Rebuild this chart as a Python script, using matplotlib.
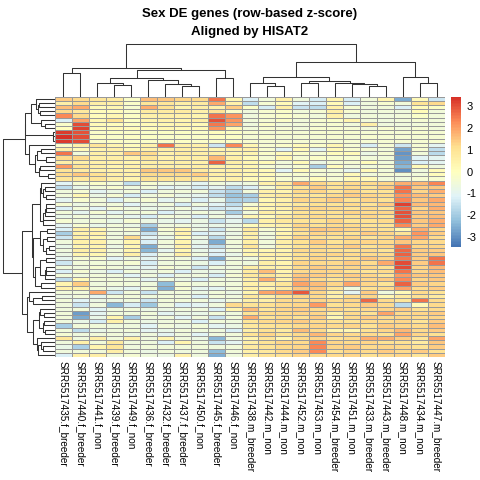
import numpy as np
import matplotlib
matplotlib.use("Agg")
import matplotlib.pyplot as plt
from matplotlib.colors import LinearSegmentedColormap

plt.rcParams["font.family"] = ["Liberation Sans", "DejaVu Sans"]
plt.rcParams["axes.unicode_minus"] = False

# column (sample) labels, in the displayed order
samples = [
    "SRR5517435.f_breeder", "SRR5517440.f_breeder", "SRR5517441.f_non",
    "SRR5517439.f_breeder", "SRR5517449.f_non", "SRR5517436.f_breeder",
    "SRR5517432.f_breeder", "SRR5517437.f_breeder", "SRR5517450.f_non",
    "SRR5517445.f_breeder", "SRR5517446.f_non", "SRR5517438.m_breeder",
    "SRR5517442.m_non", "SRR5517444.m_non", "SRR5517452.m_non",
    "SRR5517453.m_non", "SRR5517454.m_breeder", "SRR5517451.m_non",
    "SRR5517433.m_breeder", "SRR5517443.m_breeder", "SRR5517448.m_non",
    "SRR5517434.m_non", "SRR5517447.m_breeder",
]

# row z-scores (rows top to bottom, columns as above)
zscores = [
    [1.4, 1.2, 0.9, 0.7, -0.2, 1.6, 1.5, 1.3, 1.2, 2.6, 0.3, -1.2, -0.5, 0.5, -0.6, -1.3, 0.4, -1.3, -0.5, 0.4, -2.6, 0.2, -1.4],
    [0.6, 1.2, 0.6, 0.6, -0.2, 0.9, 0.9, 0.6, 0.7, 1.9, 0.5, -1.6, -0.4, 0.2, -1.1, -1.2, 0.2, -1.2, -0.6, -0.3, -0.5, 1.0, 1.2],
    [1.6, 1.9, 0.2, 0.3, -0.3, 1.8, 1.1, 0.4, 0.6, 0.5, 1.4, -0.2, -1.3, 0.6, -1.5, -1.6, 0.5, -0.4, -0.6, -0.5, -1.2, 0.1, -0.1],
    [1.2, 0.8, 0.1, 0.1, -0.2, 0.7, 0.7, 0.7, 0.5, 1.0, -0.2, -0.6, -0.3, -0.2, -0.5, -0.4, 0.6, -0.3, -0.6, -0.5, -0.6, 0.2, -0.5],
    [2.3, 1.2, 0.1, 0.3, -0.1, 0.5, 0.6, 0.5, 0.4, 2.6, 2.2, -0.6, -0.3, -0.2, -0.4, -0.5, 0.5, -0.6, -0.5, -0.6, -0.5, -0.2, -0.5],
    [-1.2, 2.0, 0.3, 1.0, -0.1, 0.4, 0.5, 0.4, 0.6, 3.0, 2.2, -0.5, -0.4, -0.2, -0.5, -0.3, -0.2, 0.4, -0.5, -0.6, -0.5, -0.4, -0.5],
    [-0.2, 3.1, 0.2, 0.1, -0.1, 0.2, 0.3, 0.4, 0.2, 2.5, 2.0, -0.6, -0.2, -0.5, -0.5, -0.4, -0.3, -0.5, 0.6, -0.6, -0.6, -0.5, -0.5],
    [0.0, 3.2, 0.1, 0.2, 0.1, 0.1, 0.3, 0.2, 0.2, 2.2, 0.3, -0.5, -0.3, -0.4, -0.5, -0.3, -0.3, -0.4, -0.5, -0.3, -0.5, -0.4, -0.5],
    [3.3, 3.0, -0.2, -0.1, -0.2, -0.2, -0.1, -0.1, -0.2, 0.0, -0.1, -0.3, -0.4, -0.3, -0.4, -0.3, -0.3, -0.3, -0.4, -0.4, -0.4, -0.3, -0.4],
    [3.4, 3.1, -0.1, -0.2, -0.1, -0.1, -0.2, -0.2, -0.2, -0.1, -0.1, -0.4, -0.3, -0.4, -0.4, -0.4, -0.3, -0.4, -0.3, -0.4, -0.4, -0.4, -0.4],
    [3.3, 3.1, -0.2, -0.1, -0.2, -0.2, -0.2, -0.1, -0.2, -0.2, -0.1, -0.3, -0.4, -0.4, -0.4, -0.4, -0.4, -0.4, -0.4, -0.4, -0.4, -0.4, -0.3],
    [-0.2, 0.5, 0.9, 0.4, 0.1, 0.5, 2.6, 0.6, 0.5, -1.4, 2.3, 0.3, -0.3, -0.2, 0.2, -0.2, 0.3, -0.4, -1.3, -0.4, -1.4, -0.4, -1.0],
    [0.6, 0.2, 0.4, 0.5, 0.2, 0.5, 0.6, 0.6, 0.5, 0.4, 0.5, 0.5, -0.3, -1.1, 0.2, -1.0, 0.2, -0.3, -0.4, -0.5, -2.7, -0.4, -1.6],
    [2.6, -0.5, 0.6, 0.5, 1.5, 1.2, 0.5, 0.7, 0.6, 0.6, 0.4, 0.4, -0.2, 0.2, -0.2, -0.4, 0.1, 0.2, -0.7, -0.4, -2.9, -0.5, -1.7],
    [1.2, 1.2, 0.6, 0.6, 0.5, 0.9, 0.5, 0.6, 0.6, 1.7, 0.6, 0.2, -0.4, 0.3, -0.4, -0.2, -0.3, -0.3, -0.5, -0.5, -2.8, -1.1, -1.0],
    [0.6, 0.6, 0.5, 0.5, 0.4, 0.6, 0.6, 0.6, 0.5, 2.8, 0.6, 0.3, 0.2, -0.5, 0.2, -0.7, -0.4, -0.4, 0.1, -0.5, -2.6, -1.2, -1.0],
    [2.1, 1.0, 0.6, 0.4, 0.5, 0.6, 0.6, 0.5, 0.6, 0.5, 0.4, 0.3, -0.4, -0.5, -0.3, -2.0, 0.1, -0.5, -0.5, -0.4, -2.4, 0.2, -0.6],
    [1.0, 0.7, 0.5, 0.5, 0.5, 1.5, 1.5, 1.5, 0.8, 0.5, 0.6, 0.4, 0.2, -1.1, 0.2, -0.4, -0.5, -0.9, 0.2, -0.5, -3.0, -0.6, 0.2],
    [1.2, 1.5, 1.1, 0.6, 0.5, 1.2, 1.2, 1.2, 1.4, 0.6, 0.5, 0.3, 0.2, -0.3, -0.3, -0.4, -0.4, 0.2, -0.5, -0.4, -0.5, -0.5, 0.1],
    [0.9, 0.8, 0.9, 0.6, 0.4, 1.0, 0.9, 0.9, 0.9, 0.4, 0.5, 0.2, 0.1, -0.3, -0.4, 0.1, -0.4, 0.2, 0.2, -0.5, -0.6, -0.4, -0.3],
    [-1.1, -0.4, -0.2, -0.5, -1.6, -0.3, -0.5, -0.6, -1.0, -0.5, -0.8, -0.6, 0.5, 0.8, 1.9, 1.3, 1.1, 1.2, 1.2, 1.3, 1.8, 1.7, 2.4],
    [-1.6, -0.8, -0.5, -0.3, -0.6, -0.5, -1.1, -0.9, -1.3, -1.0, -1.6, -1.2, -0.4, 0.6, 1.0, 1.4, 1.0, 1.2, 1.0, 1.4, 2.6, 1.4, 1.5],
    [-0.6, -0.4, -1.0, -0.7, -0.5, -1.2, -0.6, -0.5, -0.5, -1.5, -1.8, -0.5, 0.5, 0.4, 1.2, 1.3, 0.9, 1.3, 1.0, 1.0, 2.6, 1.3, 1.8],
    [-0.5, 0.3, -0.7, -0.4, -1.3, -0.6, -0.4, -0.8, -0.9, -1.6, -2.2, -2.0, 0.6, 0.8, 1.0, 0.9, 1.2, 1.4, 1.3, 1.2, 2.2, 1.6, 1.4],
    [-1.0, -0.3, -0.5, -1.2, -0.5, -0.4, -1.0, -0.6, -1.2, -0.8, -1.9, -1.8, 0.3, 0.5, 1.3, 1.2, 1.4, 1.1, 1.3, 1.1, 2.4, 1.5, 1.9],
    [-0.4, -0.7, -0.5, -0.5, -1.1, -0.7, -0.5, -1.3, -0.6, -1.1, -1.6, -0.4, 0.4, 0.6, 0.8, 1.1, 1.0, 1.2, 1.0, 1.4, 3.2, 1.6, 1.7],
    [-1.2, -0.5, -1.1, -0.4, -0.6, -0.8, -0.7, -0.5, -1.0, -1.4, -1.3, 0.2, 0.3, 0.5, 1.2, 1.3, 1.2, 1.0, 1.2, 1.0, 2.7, 1.3, 1.8],
    [-0.5, -0.9, -0.4, -1.0, -0.5, -0.5, -1.2, -0.7, -0.5, -0.7, -2.0, -0.5, 0.6, 0.4, 1.0, 1.1, 1.1, 1.3, 1.2, 1.3, 3.0, 1.5, 1.5],
    [-0.8, -0.5, -0.7, -0.6, -0.9, -1.3, -0.5, -0.6, -1.2, -0.6, -1.0, 0.3, 0.2, 0.7, 1.1, 1.2, 1.0, 1.1, 1.3, 1.1, 3.0, 1.4, 1.6],
    [-0.4, -0.6, -0.5, -0.8, -0.4, -0.7, -0.8, -1.0, -0.7, -1.5, -0.9, -1.7, 0.5, 0.8, 1.0, 1.0, 1.3, 1.0, 1.1, 1.2, 2.8, 1.5, 1.8],
    [-1.0, -0.3, -0.8, -0.5, -0.7, -2.0, -0.6, -0.5, -0.8, -0.8, -0.7, 0.1, 0.4, 0.5, 1.3, 1.1, 1.2, 1.2, 1.0, 1.0, 2.3, 1.4, 1.9],
    [-1.2, 0.6, 0.4, -0.5, -0.4, -2.6, -0.4, 0.4, -0.7, -1.4, -0.6, 0.8, -0.4, 0.3, 1.2, 1.5, 1.4, 1.3, 1.2, 1.1, 0.3, 1.8, 1.3],
    [-2.0, 0.5, 0.5, -0.6, -0.6, -1.5, -0.5, 0.5, -1.2, -1.0, -0.7, 0.6, -0.5, 0.4, 1.0, 1.3, 1.2, 1.1, 1.4, 1.3, 1.0, 2.2, 1.4],
    [-1.4, 0.6, 0.3, -0.6, 1.2, -1.1, -0.8, 0.2, -0.7, -1.7, -0.6, 0.5, -0.6, 0.5, 1.3, 1.1, 1.0, 1.3, 1.0, 1.2, 1.8, 2.0, 1.2],
    [-0.6, 0.5, 0.5, -0.5, 0.4, -1.2, -0.5, 0.4, -0.8, -2.6, -0.5, 0.6, -0.5, 0.6, 1.1, 1.4, 1.0, 1.2, 1.3, 1.2, 1.5, 1.3, 1.2],
    [-0.8, 0.4, 0.4, -0.7, 0.3, -2.6, -0.6, 0.5, -1.0, -1.6, -0.6, 0.9, -0.5, 0.5, 1.0, 1.2, 1.2, 1.4, 1.1, 1.3, 2.6, 1.3, 1.3],
    [-0.6, 0.6, 0.5, -0.5, 0.4, -2.4, -0.9, 0.3, -0.8, -1.1, -0.5, 0.4, 0.3, 0.4, 1.2, 1.2, 1.1, 1.1, 1.2, 1.0, 2.7, 1.4, 1.4],
    [-0.7, 0.4, 0.3, -0.5, 0.6, -1.2, -0.5, 0.6, -0.6, -1.2, -0.8, 0.3, 0.5, 0.6, 1.1, 1.2, 1.3, 1.2, 1.2, 1.2, 2.8, 1.4, 1.5],
    [-0.9, -0.4, -0.3, -1.1, -0.6, -1.0, -0.5, -0.6, -1.2, -2.6, -0.6, -0.6, 0.4, 0.4, 1.1, 1.3, 1.0, 1.1, 1.5, 1.3, 2.5, 1.4, 2.6],
    [-1.4, -0.5, -0.5, -0.6, -0.4, -1.3, -0.6, -0.5, -0.7, -1.2, -0.5, -0.6, 0.6, 0.4, 1.3, 1.2, 1.2, 1.4, 1.2, 1.9, 3.1, 1.4, 2.6],
    [-0.6, -0.6, -0.4, -0.5, -0.7, -1.0, -0.4, -0.6, -1.4, -0.6, -0.6, 0.6, 0.5, 0.5, 1.2, 1.4, 1.2, 1.3, 1.3, 1.1, 3.1, 1.3, 1.7],
    [-1.2, -0.4, -0.7, -1.2, -0.5, -0.7, -0.5, -1.2, -0.7, -0.8, -0.5, 0.7, 1.6, 0.4, 1.2, 1.3, 1.3, 1.1, 1.0, 1.2, 2.6, 1.3, 1.6],
    [-0.5, -0.6, -0.5, -0.6, -1.1, -0.6, -1.2, -0.6, -0.6, -1.3, -0.4, 0.8, 1.0, 0.6, 1.5, 1.4, 1.2, 1.4, 1.3, 1.0, 2.1, 1.5, 1.5],
    [-1.6, 0.2, -0.5, -0.5, -0.6, -1.0, -0.5, -0.7, -1.2, -0.6, -0.6, 0.6, 1.8, 0.5, 1.6, 1.2, 1.0, 1.3, 1.3, 1.4, 2.3, 1.3, 1.5],
    [0.4, 1.4, -0.6, -0.5, -0.5, -0.6, -2.3, -0.4, -0.6, -0.5, -0.5, 0.5, 0.6, 0.9, 2.0, 1.6, 1.3, 2.0, 1.3, 1.0, 2.8, 1.4, 1.3],
    [0.5, 0.5, -0.5, -0.8, -1.0, -0.5, -2.5, -0.4, -0.9, -1.0, -0.5, 0.5, 0.4, 0.8, 1.5, 1.5, 1.0, -0.6, 1.1, 1.2, 2.0, 1.2, 1.4],
    [-0.5, -0.5, 1.9, -1.4, -0.5, -1.5, -0.6, -0.5, -0.7, -0.5, -0.7, 0.4, 2.0, 2.1, 2.9, 1.3, 0.6, -1.0, 1.4, -0.6, 0.2, 1.2, 1.0],
    [-0.7, -0.5, -0.9, -0.5, -0.5, -0.6, -0.5, -0.6, -1.2, -0.5, -0.6, 0.8, 0.6, 1.0, 1.3, 1.2, 0.5, 1.2, 1.3, 0.3, 0.7, 1.1, 0.7],
    [-0.5, -1.1, -0.7, -0.7, -0.6, -1.4, -0.5, -0.5, -0.5, -0.9, -0.5, 0.6, 0.6, 1.2, 1.2, 1.3, 1.2, 1.3, 2.7, 1.2, 0.9, 2.6, 1.2],
    [-0.6, -1.5, -0.6, -2.4, -1.3, -2.1, -0.6, -1.2, -1.0, -0.6, 1.2, 1.0, 1.1, 1.2, 1.3, 2.1, 1.1, 1.2, 1.4, 1.2, -1.7, 0.2, 1.2],
    [-0.6, -0.5, -1.1, -0.6, -0.5, -0.7, -0.7, -0.6, -0.6, -1.2, 0.4, 1.6, 0.9, 1.3, 1.4, 1.2, 1.3, 1.1, 1.2, 1.3, 1.4, 1.1, 1.2],
    [-0.5, -2.8, -1.0, -0.5, -0.6, -0.5, -1.0, -0.7, -0.8, -0.5, -0.6, 1.0, 1.2, 1.2, 1.3, 1.3, 0.6, 1.2, 1.1, 2.0, 1.2, 1.3, 1.4],
    [-0.5, -2.6, -0.8, 0.4, -2.0, -0.6, -0.5, -1.1, -0.6, -1.5, -0.5, 1.8, 1.0, 1.2, 1.1, 1.4, 0.3, 1.2, 1.4, 1.2, 1.3, 1.2, 1.3],
    [-0.6, -0.8, -1.3, 0.5, -0.5, -0.7, -0.6, -0.5, -1.2, -0.5, -0.6, 0.9, 1.2, 1.3, 1.4, 1.2, 1.1, 1.0, 1.2, 1.2, 1.3, 1.0, 1.4],
    [-2.0, -0.5, -0.5, -0.6, -0.6, -1.1, -0.5, -0.7, -0.5, -1.0, -0.7, 0.8, 1.0, 1.1, 1.2, 1.3, 1.2, 1.3, 1.1, 1.4, 1.3, 1.2, 1.6],
    [-0.5, -1.6, -0.8, -0.6, -0.5, -1.0, -0.8, -0.5, -0.6, -0.6, -1.2, 0.6, 1.1, 0.7, 1.6, 1.2, 0.4, 0.3, 1.1, 1.3, 1.7, 1.2, 1.4],
    [-0.4, -0.6, -0.5, -0.5, -0.7, -0.6, -1.0, -0.6, -1.1, -0.6, -0.5, 1.0, 1.3, 1.0, 1.2, 1.7, 1.3, 1.2, 1.2, 1.1, 2.0, 1.3, 1.1],
    [0.9, -0.6, 0.6, -0.5, 0.5, -0.6, 0.4, -0.6, -0.7, -2.4, -0.6, 0.4, 0.9, 0.3, 1.2, 1.3, 1.0, 1.2, 1.8, 1.8, 1.4, 0.9, 2.0],
    [-0.6, 0.5, -0.5, 0.8, -0.6, -0.6, -1.2, 0.4, -0.6, -1.5, -1.0, 0.6, 1.0, 1.3, 1.2, 2.3, 1.3, 1.2, 1.3, 1.1, 1.1, 0.7, 1.5],
    [-0.8, -1.9, 0.4, 0.9, -0.6, -0.5, -0.5, -0.5, -0.5, -0.6, -0.5, 0.7, 1.0, 1.2, 1.3, 2.4, 1.3, 1.4, 1.2, 1.3, 1.2, 1.0, 1.4],
    [-0.6, -0.5, -0.5, 0.6, -0.5, -0.7, -0.5, -0.6, -0.6, -2.3, -0.5, 0.5, 0.8, 1.2, 1.4, 2.3, 1.1, 1.3, 1.2, 1.4, 1.2, 1.4, 1.1],
    [-1.2, 0.5, 0.6, -0.5, -0.4, -0.6, -0.7, 0.5, -0.6, -2.5, -0.6, 0.6, 1.0, 1.1, 1.3, 1.2, 1.2, 1.3, 1.1, 1.2, 1.3, 0.9, 1.4],
]

# column dendrogram: (left node, right node, height)
# leaves are 0..22, merged nodes get ids 23, 24, ... in this order
col_merges = [
    (0, 1, 24.3), (3, 4, 12.0), (2, 24, 14.3), (7, 8, 11.0), (6, 26, 13.0),
    (5, 27, 17.0), (25, 28, 18.7), (9, 10, 19.3), (29, 30, 27.0), (23, 31, 28.7),
    (12, 13, 11.0), (11, 33, 14.3), (14, 15, 14.3), (18, 19, 11.0), (17, 36, 12.7),
    (16, 37, 13.7), (35, 38, 16.0), (34, 39, 19.7), (21, 22, 13.7), (20, 41, 20.3),
    (40, 42, 35.3), (32, 43, 52.7),
]

legend_ticks = [-3, -2, -1, 0, 1, 2, 3]


def px(left, top, right, bottom, size=480):
    # pixel box -> figure fraction
    return [left / size, 1 - bottom / size, (right - left) / size, (bottom - top) / size]


def row_linkage(mat):
    """Complete linkage, only joining neighbouring clusters so the row order stays put."""
    n = len(mat)
    dist = np.sqrt(((mat[:, None, :] - mat[None, :, :]) ** 2).sum(-1))
    clusters = [[i] for i in range(n)]
    nodes = list(range(n))
    merges = []
    next_id = n
    while len(clusters) > 1:
        best_d, best_k = None, None
        for k in range(len(clusters) - 1):
            d = dist[np.ix_(clusters[k], clusters[k + 1])].max()
            if best_d is None or d < best_d:
                best_d, best_k = d, k
        merges.append((nodes[best_k], nodes[best_k + 1], best_d))
        clusters[best_k:best_k + 2] = [clusters[best_k] + clusters[best_k + 1]]
        nodes[best_k:best_k + 2] = [next_id]
        next_id += 1
    return merges


def draw_tree(ax, merges, n, vertical=True):
    pos = {i: i + 0.5 for i in range(n)}
    hgt = {i: 0.0 for i in range(n)}
    for k, (a, b, h) in enumerate(merges):
        node = n + k
        pos[node] = (pos[a] + pos[b]) / 2
        hgt[node] = h
        xs = [pos[a], pos[a], pos[b], pos[b]]
        ys = [hgt[a], h, h, hgt[b]]
        if vertical:
            ax.plot(xs, ys, color="#333333", lw=0.75, solid_capstyle="butt")
        else:
            ax.plot(ys, xs, color="#333333", lw=0.75, solid_capstyle="butt")
    return max(hgt.values())


data = np.array(zscores)
n_rows, n_cols = data.shape

colors = ["#4575B4", "#91BFDB", "#E0F3F8", "#FFFFBF", "#FEE090", "#FC8D59", "#D73027"]
cmap = LinearSegmentedColormap.from_list("rdylbu", colors, N=100)

fig = plt.figure(figsize=(4.8, 4.8), dpi=100)

# heatmap
ax = fig.add_axes(px(55, 96.5, 445, 357))
mesh = ax.pcolormesh(data, cmap=cmap, vmin=-3.45, vmax=3.45,
                     edgecolors="#999999", linewidth=0.5)
ax.set_xlim(0, n_cols)
ax.set_ylim(n_rows, 0)
ax.set_xticks(np.arange(n_cols) + 0.5)
ax.set_xticklabels(samples, rotation=270, fontsize=7.2, va="top", ha="center")
ax.set_yticks([])
ax.tick_params(axis="x", length=0, pad=3)
for s in ax.spines.values():
    s.set_visible(False)

# column dendrogram
ax_top = fig.add_axes(px(55, 40, 445, 97))
draw_tree(ax_top, col_merges, n_cols, vertical=True)
ax_top.set_xlim(0, n_cols)
ax_top.set_ylim(0, 57)
ax_top.axis("off")

# row dendrogram
ax_left = fig.add_axes(px(0, 96.5, 55, 357))
top_h = draw_tree(ax_left, row_linkage(data), n_rows, vertical=False)
ax_left.set_xlim(top_h * 55 / 52, 0)
ax_left.set_ylim(n_rows, 0)
ax_left.axis("off")

# legend
cax = fig.add_axes(px(451, 96.7, 461, 246.7))
cb = fig.colorbar(mesh, cax=cax, ticks=legend_ticks)
cb.outline.set_visible(False)
cb.ax.tick_params(length=0, labelsize=8, pad=4)

fig.text(250 / 480, 1 - 14 / 480, "Sex DE genes (row-based z-score)",
         ha="center", va="center", fontsize=9.5, fontweight="bold")
fig.text(250 / 480, 1 - 32.5 / 480, "Aligned by HISAT2",
         ha="center", va="center", fontsize=9.5, fontweight="bold")

fig.savefig("out.png", dpi=100)
